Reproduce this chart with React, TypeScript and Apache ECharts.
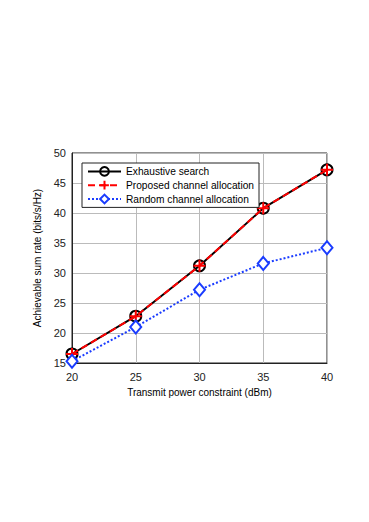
import React, { useEffect, useRef } from "react";
import * as echarts from "echarts";

const powers = [20, 25, 30, 35, 40];
const exhaustive = [16.5, 22.8, 31.2, 40.8, 47.2];
const proposed = [16.5, 22.8, 31.2, 40.8, 47.2];
const randomAlloc = [15.3, 21.0, 27.2, 31.6, 34.2];

const seriesNames = ["Exhaustive search", "Proposed channel allocation", "Random channel allocation"];

const crossPath = "path://M0,5L10,5M5,0L5,10";

export default function App() {
  const ref = useRef<HTMLDivElement>(null);
  useEffect(() => {
    const chart = echarts.init(ref.current!, null, { renderer: "svg" });
    const font = "Liberation Sans, Arial, sans-serif";
    const toPairs = (arr: number[]) => powers.map((p, i) => [p, arr[i]]);
    chart.setOption({
      animation: false,
      backgroundColor: "#ffffff",
      textStyle: { fontFamily: font },
      grid: {
        left: 72,
        right: 42,
        top: 153,
        bottom: 159,
        show: true,
        borderColor: "#222",
        borderWidth: 1,
      },
      legend: {
        left: 82,
        top: 163,
        orient: "vertical",
        backgroundColor: "#fff",
        borderColor: "#222",
        borderWidth: 1,
        padding: [3, 5, 3, 5],
        itemGap: 3,
        itemWidth: 33,
        itemHeight: 11,
        textStyle: { fontSize: 10.2, color: "#000", fontFamily: font },
        data: seriesNames,
      },
      xAxis: {
        type: "value",
        min: 20,
        max: 40,
        interval: 5,
        name: "Transmit power constraint (dBm)",
        nameLocation: "middle",
        nameGap: 24,
        nameTextStyle: { fontSize: 10, color: "#000" },
        axisLine: { show: true, lineStyle: { color: "#222" } },
        axisTick: { show: false },
        axisLabel: { fontSize: 11, color: "#222", margin: 8 },
        splitLine: { show: true, lineStyle: { color: "#bbb", width: 1 } },
      },
      yAxis: {
        type: "value",
        min: 15,
        max: 50,
        interval: 5,
        name: "Achievable sum rate (bits/s/Hz)",
        nameLocation: "middle",
        nameGap: 26,
        nameTextStyle: { fontSize: 10, color: "#000" },
        axisLine: { show: true, lineStyle: { color: "#222" } },
        axisTick: { show: false },
        axisLabel: { fontSize: 11, color: "#222", margin: 6 },
        splitLine: { show: true, lineStyle: { color: "#bbb", width: 1 } },
      },
      series: [
        {
          name: seriesNames[0],
          type: "line",
          data: toPairs(exhaustive),
          symbol: "circle",
          symbolSize: 11,
          lineStyle: { color: "#000", width: 2 },
          itemStyle: { color: "transparent", borderColor: "#000", borderWidth: 2 },
          z: 2,
        },
        {
          name: seriesNames[1],
          type: "line",
          data: toPairs(proposed),
          symbol: crossPath,
          symbolSize: 12,
          lineStyle: { color: "#ff0000", width: 2, type: [7, 4] },
          itemStyle: { color: "transparent", borderColor: "#ff0000", borderWidth: 2 },
          z: 3,
        },
        {
          name: seriesNames[2],
          type: "line",
          data: toPairs(randomAlloc),
          symbol: "diamond",
          symbolSize: [11, 13],
          lineStyle: { color: "#1a3cff", width: 2, type: [2, 2] },
          itemStyle: { color: "#fff", borderColor: "#1a3cff", borderWidth: 2 },
          z: 4,
        },
      ],
    });
    return () => chart.dispose();
  }, []);
  return (
    <div
      ref={ref}
      style={{ position: "absolute", left: 0, top: 0, width: 369, height: 522 }}
    />
  );
}
